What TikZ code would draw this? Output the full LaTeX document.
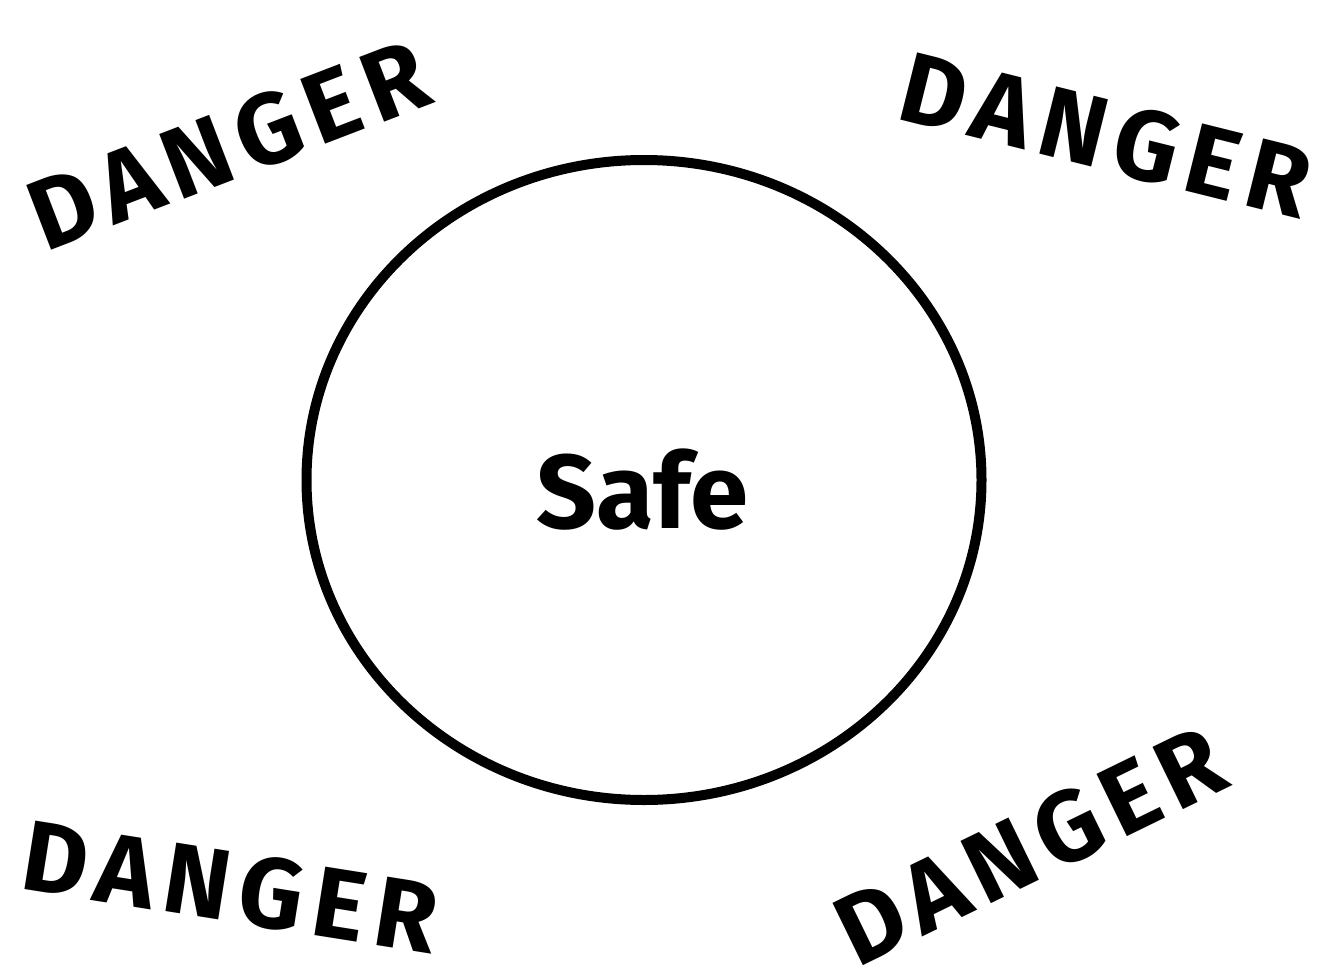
\documentclass[tikz,border=0pt]{standalone}
\usepackage{fontspec}
\usetikzlibrary{shapes.geometric}
\setmainfont{Fira Sans}
\begin{document}
\begin{tikzpicture}[x=1pt,y=-1pt,
  danger/.style={font=\fontsize{100}{100}\selectfont\bfseries\addfontfeatures{LetterSpace=10}, inner sep=0pt, text=black},
  safetext/.style={font=\fontsize{105}{105}\selectfont\bfseries, inner sep=0pt},
  zone/.style={draw=black, line width=10pt}]
\useasboundingbox (0,0) rectangle (1339,980);
\node[zone, ellipse, minimum width=675pt, minimum height=640pt, inner sep=0pt] (safe) at (644,480) {};
\node[safetext] (safelabel) at (642,490) {Safe};
\node[danger, rotate=21] (d1) at (228,145) {DANGER};
\node[danger, rotate=-14] (d2) at (1106,135) {DANGER};
\node[danger, rotate=-9] (d3) at (230,887) {DANGER};
\node[danger, rotate=26] (d4) at (1030,846) {DANGER};
\end{tikzpicture}
\end{document}
